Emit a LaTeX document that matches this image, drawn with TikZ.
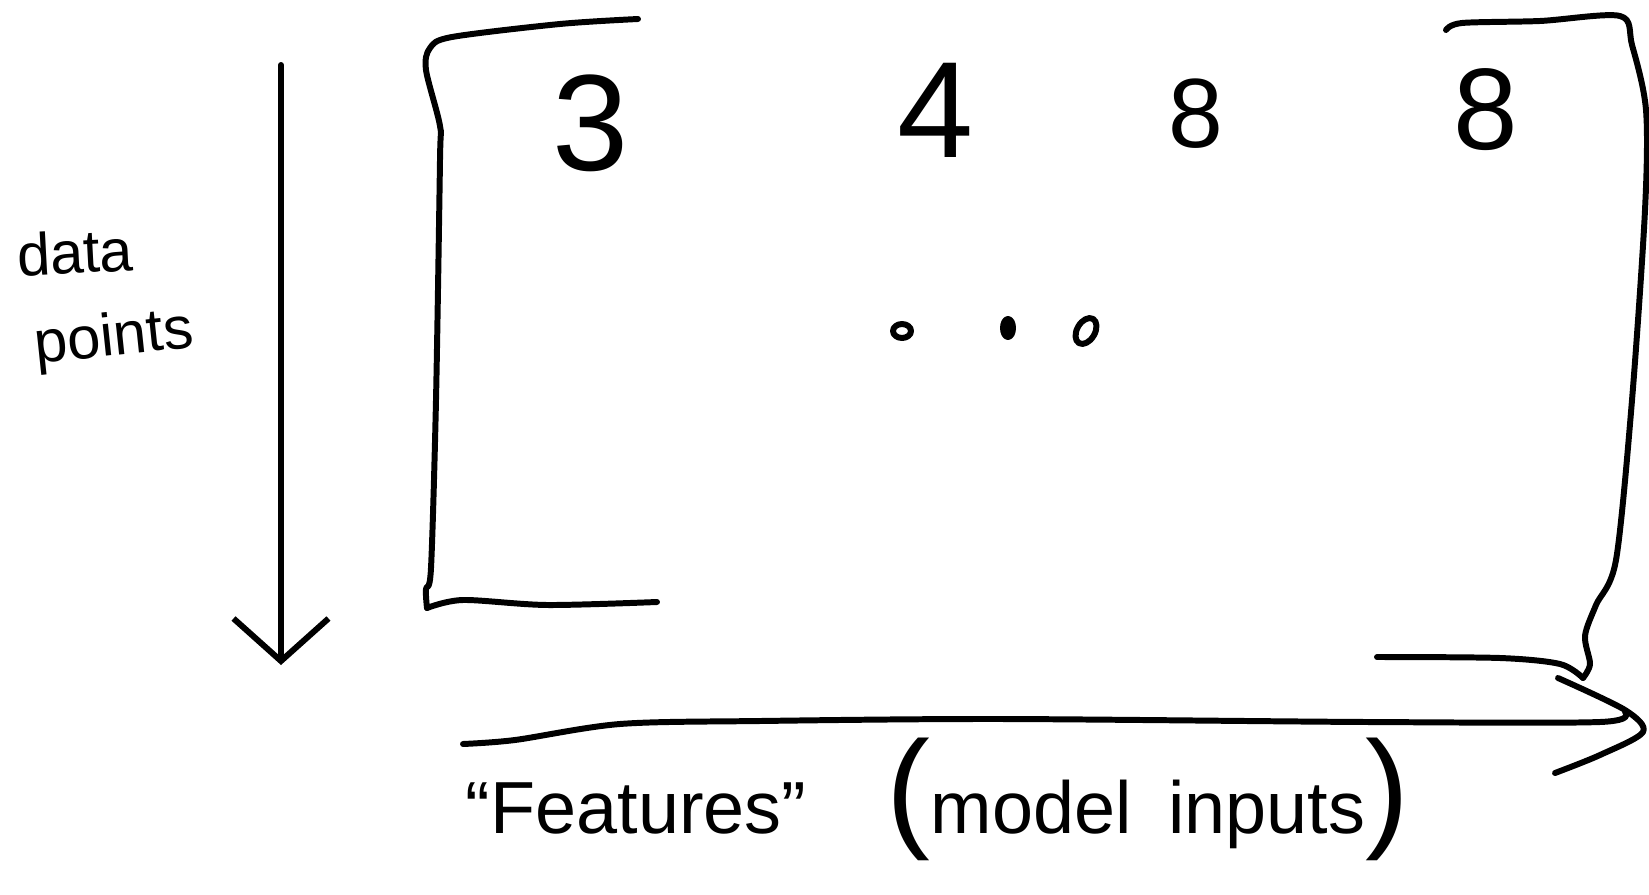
\documentclass[tikz,border=0pt]{standalone}
\usepackage{fontspec}
\setmainfont{Liberation Sans}
\usetikzlibrary{arrows.meta}
\begin{document}
\begin{tikzpicture}[x=0.02cm,y=-0.02cm,
  ink/.style={line width=3.4pt,line cap=round,line join=round,black},
  hand/.style={inner sep=0pt,outer sep=0pt,black},
  digit/.style={hand,font=\fontsize{#1}{#1}\selectfont}]
\useasboundingbox (0,0) rectangle (1649,895);
% left bracket
\draw[ink] plot[smooth,tension=0.5] coordinates {(638,19) (560,24) (452,37) (430,48) (426,70) (440,126) (440,160) (436,400) (431,568) (426,589) (427,608)};
\draw[ink] plot[smooth,tension=0.5] coordinates {(427,608) (463,600) (547,605) (657,602)};
% right bracket
\draw[ink] plot[smooth,tension=0.5] coordinates {(1446,30) (1462,23) (1540,21) (1620,16) (1632,45) (1646,110) (1645,210) (1632,400) (1616,560) (1596,605) (1585,636) (1590,664) (1583,678)};
\draw[ink] plot[smooth,tension=0.5] coordinates {(1377,657) (1500,658) (1560,664) (1583,678)};
% brace under features
\draw[ink] plot[smooth,tension=0.5] coordinates {(463,744) (515,740) (620,724) (760,721) (1000,719) (1367,722) (1600,722) (1625,712)};
\draw[ink] plot[smooth,tension=0.5] coordinates {(1558,678) (1625,710) (1643,732) (1600,755) (1555,773)};
% arrow
\coordinate (arrtop) at (281,65);
\coordinate (arrbot) at (281,665);
\draw[ink,-{Straight Barb[length=0.85cm,width=1.9cm,line width=3.4pt]}] (arrtop) -- (arrbot);
% data points label
\node[hand,font=\fontsize{34}{34}\selectfont,rotate=3] (data) at (75,252) {data};
\node[hand,font=\fontsize{34}{34}\selectfont,rotate=6] (points) at (114,340) {points};
% digits
\node[digit=78] (d1) at (591,123) {3};
\node[digit=78] (d2) at (936,110) {4};
\node[digit=56] (d3) at (1196,114) {8};
\node[digit=66] (d4) at (1486,110) {8};
% ellipsis dots
\draw[ink] (902,331) ellipse [x radius=9,y radius=7];
\draw[ink,fill=black] (1008,328) ellipse [x radius=5,y radius=9];
\draw[ink,rotate around={-30:(1086,331)}] (1086,331) ellipse [x radius=9,y radius=14];
% bottom label
\node[hand,font=\fontsize{42}{42}\selectfont,anchor=base] (feat) at (636,833) {“Features”};
\node[hand,font=\fontsize{42}{42}\selectfont,anchor=base] (inputs) at (1148,833) {{\fontsize{75}{75}\selectfont(}model\hspace{0.5em}inputs{\fontsize{75}{75}\selectfont)}};
\end{tikzpicture}
\end{document}
